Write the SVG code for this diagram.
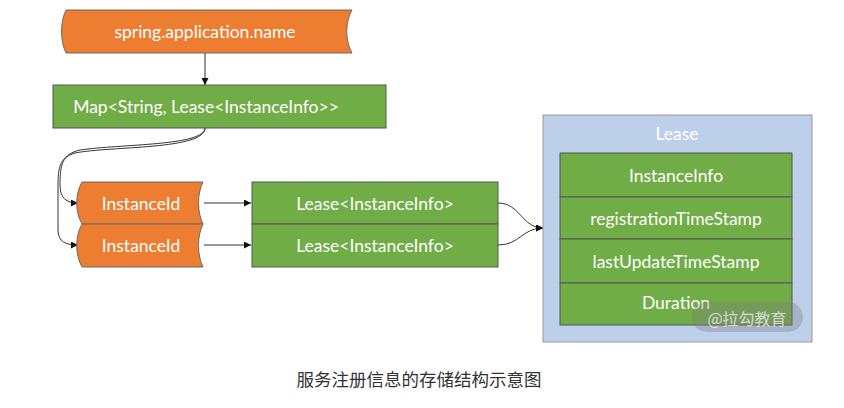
<svg xmlns="http://www.w3.org/2000/svg" width="844" height="408" viewBox="0 0 844 408">
<defs>
<style>
.or{fill:#ed7d31;stroke:#6b6b6b;stroke-width:1}
.gr{fill:#70ad47;stroke:#555;stroke-width:1}
.t{font-family:Lato,"Liberation Sans",sans-serif;font-size:17.5px;fill:#fff;text-anchor:middle;dominant-baseline:central}
.c{fill:none;stroke:#333;stroke-width:1}
</style>
<marker id="ar" viewBox="0 0 10 10" refX="10" refY="5" markerWidth="7" markerHeight="7" orient="auto" markerUnits="userSpaceOnUse">
<path d="M0,0 L10,5 L0,10 z" fill="#111"/>
</marker>
</defs>
<rect width="844" height="408" fill="#fff"/>
<g id="connectors">
<path class="c" d="M205,53 L205,85" marker-end="url(#ar)"/>
<path class="c" d="M205,128 C205,146 120,144 80,150 C62,154 60,165 60,185 C60,198 66,203 78,203" marker-end="url(#ar)"/>
<path class="c" d="M205,128 C205,150 110,146 75,153 C58,158 58,170 58,190 L58,230 C58,242 66,245 78,245" marker-end="url(#ar)"/>
<path class="c" d="M204,203 L251,203" marker-end="url(#ar)"/>
<path class="c" d="M204,245 L251,245" marker-end="url(#ar)"/>
<path class="c" d="M498,203 C520,203 522,228 543,228" marker-end="url(#ar)"/>
<path class="c" d="M498,245 C520,245 522,228 543,228" marker-end="url(#ar)"/>
</g>
<g id="appname">
<path class="or" d="M66,10 L352,10 C345,22 345,41 352,53 L66,53 C60,41 60,22 66,10 z"/>
<text class="t" x="205" y="31">spring.application.name</text>
</g>
<g id="map">
<rect class="gr" x="53" y="85" width="333" height="43"/>
<text class="t" x="206" y="106">Map&lt;String, Lease&lt;InstanceInfo&gt;&gt;</text>
</g>
<g id="instanceid1">
<path class="or" d="M82,182 L203,182 C197,194 197,212 203,224 L82,224 C75,212 75,194 82,182 z"/>
<text class="t" x="141" y="203">InstanceId</text>
</g>
<g id="instanceid2">
<path class="or" d="M82,224 L203,224 C197,236 197,255 203,267 L82,267 C75,255 75,236 82,224 z"/>
<text class="t" x="141" y="245">InstanceId</text>
</g>
<g id="lease1">
<rect class="gr" x="252" y="182" width="246" height="42"/>
<text class="t" x="375" y="203">Lease&lt;InstanceInfo&gt;</text>
</g>
<g id="lease2">
<rect class="gr" x="252" y="224" width="246" height="43"/>
<text class="t" x="375" y="245">Lease&lt;InstanceInfo&gt;</text>
</g>
<g id="lease-container">
<rect x="543" y="115" width="269" height="227" fill="#bcd0ea" stroke="#999" stroke-width="1"/>
<text class="t" x="677" y="133">Lease</text>
</g>
<g id="field-instanceinfo">
<rect class="gr" x="560" y="153" width="232" height="44" stroke="#333"/>
<text class="t" x="676" y="175">InstanceInfo</text>
</g>
<g id="field-registration">
<rect class="gr" x="560" y="197" width="232" height="42" stroke="#333"/>
<text class="t" x="676" y="218">registrationTimeStamp</text>
</g>
<g id="field-lastupdate">
<rect class="gr" x="560" y="239" width="232" height="44" stroke="#333"/>
<text class="t" x="676" y="261">lastUpdateTimeStamp</text>
</g>
<g id="field-duration">
<rect class="gr" x="560" y="283" width="232" height="42" stroke="#333"/>
<text class="t" x="676" y="302">Duration</text>
</g>
<g id="watermark">
<rect x="692" y="302" width="111" height="30" rx="15" fill="#7a7a7a" fill-opacity="0.35"/>
<text x="747" y="318" font-family="'Noto Sans CJK SC',sans-serif" font-size="16" fill="#e8e8e8" fill-opacity="0.85" text-anchor="middle" dominant-baseline="central">@拉勾教育</text>
</g>
<text x="419" y="378" font-family="'Noto Sans CJK SC',sans-serif" font-size="17.5" fill="#333" text-anchor="middle" dominant-baseline="central">服务注册信息的存储结构示意图</text>
</svg>
